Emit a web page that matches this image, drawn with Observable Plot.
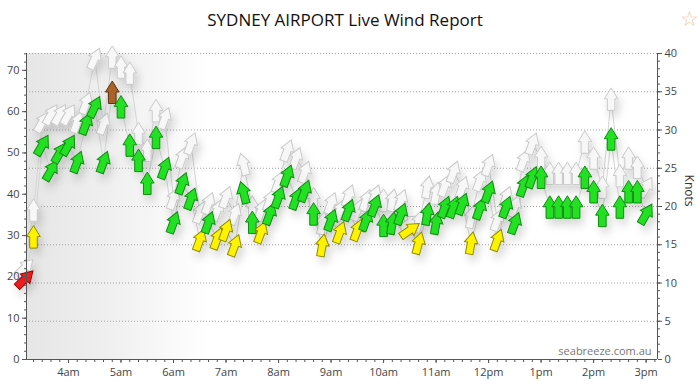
<!DOCTYPE html>
<html><head><meta charset="utf-8">
<script src="https://cdn.jsdelivr.net/npm/d3@7"></script>
<script src="https://cdn.jsdelivr.net/npm/@observablehq/plot@0.6"></script>
<style>
body{margin:0;background:#fff;font-family:"Open Sans",sans-serif;}
#wrap{position:relative;width:700px;height:384px;overflow:hidden;}
#title{position:absolute;left:0;top:0;width:690px;height:40px;line-height:40px;text-align:center;font-size:17px;color:#111;}
#star{position:absolute;left:680px;top:4px;font-size:21px;color:#ecc9a0;}
#chart{position:absolute;left:0;top:40px;}
</style></head><body>
<div id="wrap"><div id="title">SYDNEY AIRPORT Live Wind Report</div><div id="star">☆</div><div id="chart"></div></div>
<script>
const times = ["03:10","03:20","03:30","03:40","03:50","04:00","04:10","04:20","04:30","04:40","04:50","05:00","05:10","05:20","05:30","05:40","05:50","06:00","06:10","06:20","06:30","06:40","06:50","07:00","07:10","07:20","07:30","07:40","07:50","08:00","08:10","08:20","08:30","08:40","08:50","09:00","09:10","09:20","09:30","09:40","09:50","10:00","10:10","10:20","10:30","10:40","10:50","11:00","11:10","11:20","11:30","11:40","11:50","12:00","12:10","12:20","12:30","12:40","12:50","13:00","13:10","13:20","13:30","13:40","13:50","14:00","14:10","14:20","14:30","14:40","14:50","15:00"];
const wind = [10.5,16,28,24.7,27,28,25.8,30.8,33,25.8,34.9,33,28,26,23,29,25,17.9,23,21,15.6,17.9,15.8,16.9,14.9,21.8,17.9,16.6,19,21.2,24,21,22,19,14.9,18.2,16.6,19.5,16.9,18.2,20.1,17.5,17.8,19,16.9,15.2,19,17.8,19.9,19.9,20.3,15.2,19.7,21.9,15.6,19.9,17.8,22.7,23.8,23.8,19.9,19.9,19.9,19.9,23.8,21.9,18.8,28.8,19.9,21.9,21.9,19];
const gust = [12,19.5,31,32,32,32,31,33.5,39.3,30.8,39.5,38.2,37.4,29.5,27.3,32.5,31.5,21,26.4,28.2,19.2,20.4,19.5,21.2,19,25.5,19.9,19.5,20.8,23.2,27.3,26.3,24.5,21,17.8,20.4,19.5,21.4,19.5,20.8,21.4,20.8,20.8,20.8,17.9,18,22.5,21.7,22.7,24.5,22.5,18.6,23.4,25.4,18.2,21.2,20,26,28.2,26.4,24.3,24.3,24.3,24.3,28.4,26.3,22.5,34,24,26.3,25.1,22.5];
const dir = [45,0,30,30,30,30,20,20,25,20,0,0,0,0,0,0,20,20,20,20,20,20,20,20,20,-15,0,20,20,20,20,20,20,0,10,20,20,20,20,20,20,0,10,20,55,15,10,10,20,20,20,10,20,20,20,20,20,20,20,0,0,0,0,0,0,0,0,0,0,0,0,30];
const level = ["red","yellow","green","green","green","green","green","green","green","green","brown","green","green","green","green","green","green","green","green","green","yellow","green","yellow","yellow","yellow","green","green","yellow","green","green","green","green","green","green","yellow","green","yellow","green","yellow","green","green","green","green","green","yellow","yellow","green","green","green","green","green","yellow","green","green","yellow","green","green","green","green","green","green","green","green","green","green","green","green","green","green","green","green","green"];
const hourTicks = ["04:00","05:00","06:00","07:00","08:00","09:00","10:00","11:00","12:00","13:00","14:00","15:00"];
const hourLabels = ["4am","5am","6am","7am","8am","9am","10am","11am","12pm","1pm","2pm","3pm"];
const knotTicks = [0,5,10,15,20,25,30,35,40];
const kmhTicks = [0,10,20,30,40,50,60,70];
const domainTimes = ["03:12","15:13"];
const nightEnd = "06:40";
const watermark = "seabreeze.com.au";
const axisLabel = "Knots";

const parse = s => { const [h,m] = s.split(":").map(Number); return new Date(2020,0,1,h,m); };
const fillOf = {red:"#ee1c1c", yellow:"#fff200", green:"#22e022", brown:"#a8632c"};
const strokeOf = {red:"#a00000", yellow:"#8a8a00", green:"#138a13", brown:"#5e3411"};
const data = times.map((t,i)=>({t:parse(t), wind:wind[i], gust:gust[i], dir:dir[i], fill:fillOf[level[i]], stroke:strokeOf[level[i]]}));
const [x0, x1] = domainTimes.map(parse);
const labelOf = new Map(hourTicks.map((t,i)=>[+parse(t), hourLabels[i]]));
const minorX = d3.timeMinute.every(10).range(parse("03:20"), parse("15:11"));

const arrowSym = {draw(ctx, size){
  const s = Math.sqrt(size/Math.PI)/10;
  ctx.moveTo(0,-11.5*s); ctx.lineTo(6.8*s,-0.5*s); ctx.lineTo(3.8*s,-0.5*s);
  ctx.lineTo(3.8*s,11*s); ctx.lineTo(-3.8*s,11*s); ctx.lineTo(-3.8*s,-0.5*s);
  ctx.lineTo(-6.8*s,-0.5*s); ctx.closePath();
}};

const chart = Plot.plot({
  width: 700, height: 344,
  marginLeft: 26, marginRight: 43, marginTop: 13, marginBottom: 25,
  style: {fontFamily: "'Open Sans', sans-serif", fontSize: "11px", color: "#444", background: "transparent"},
  x: {type: "time", domain: [x0, x1], axis: null},
  y: {domain: [0, 40], axis: null},
  color: {type: "identity"},
  marks: [
    Plot.rect([{a: x0, b: parse(nightEnd)}], {x1: "a", x2: "b", y1: 0, y2: 40, fill: "#ececec"}),
    Plot.gridY(knotTicks.filter(d=>d>0), {stroke: "#999", strokeOpacity: 0.9, strokeDasharray: "1,2"}),
    Plot.line(data, {x: "t", y: "gust", stroke: "#d6d6d6", strokeWidth: 1}),
    Plot.line(data, {x: "t", y: "wind", stroke: "#d6d6d6", strokeWidth: 1}),
    Plot.dot(data, {x: "t", y: "gust", symbol: arrowSym, r: 10, rotate: "dir", fill: "#f7f7f7", stroke: "#c9c9c9", strokeWidth: 1}),
    Plot.dot(data, {x: "t", y: "wind", symbol: arrowSym, r: 10, rotate: "dir", fill: "fill", stroke: "stroke", strokeWidth: 1}),
    Plot.ruleY([0], {stroke: "#555"}),
    Plot.ruleX([x0], {stroke: "#555"}),
    Plot.ruleX([x1], {stroke: "#555"}),
    Plot.axisX(hourTicks.map(parse), {tickSize: 4, tickPadding: 5, stroke: "#555", tickFormat: d => labelOf.get(+d), fontSize: 11, fill: "#444"}),
    Plot.axisX(minorX, {tickSize: 3, text: null, stroke: "#555"}),
    Plot.axisY(knotTicks, {anchor: "right", tickSize: 4, tickPadding: 3, stroke: "#555", fontSize: 11, fill: "#444", label: null}),
    Plot.axisY(d3.range(0, 41, 1), {anchor: "right", tickSize: 2, text: null, stroke: "#555", label: null}),
    Plot.axisY(kmhTicks.map(v => v/1.852), {anchor: "left", tickSize: 4, tickPadding: 3, stroke: "#555", fontSize: 11, fill: "#444", tickFormat: d => String(Math.round(d*1.852)), label: null}),
    Plot.axisY(d3.range(0, 75, 2).map(v => v/1.852), {anchor: "left", tickSize: 2, text: null, stroke: "#555", label: null}),
    Plot.text([axisLabel], {frameAnchor: "right", dx: 31, rotate: 90, fontSize: 12, fill: "#333"}),
    Plot.text([watermark], {frameAnchor: "bottom-right", dx: -6, dy: -5, fill: "#777", fontSize: 11})
  ]
});

const ns = "http://www.w3.org/2000/svg";
const defs = document.createElementNS(ns, "defs");
defs.innerHTML = `<linearGradient id="night" x1="0" x2="1" y1="0" y2="0">
<stop offset="0" stop-color="#e6e6e6"/><stop offset="0.45" stop-color="#efefef"/><stop offset="0.8" stop-color="#f9f9f9"/><stop offset="1" stop-color="#ffffff"/></linearGradient>
<filter id="sh" x="-20%" y="-20%" width="140%" height="140%"><feDropShadow dx="3" dy="6" stdDeviation="4" flood-color="#000" flood-opacity="0.16"/></filter>`;
chart.insertBefore(defs, chart.firstChild);
chart.querySelectorAll('g[aria-label="rect"] rect').forEach(r => r.setAttribute("fill", "url(#night)"));
chart.querySelectorAll('g[aria-label="dot"]').forEach(g => g.setAttribute("filter", "url(#sh)"));
document.getElementById("chart").appendChild(chart);
</script>
</body></html>
